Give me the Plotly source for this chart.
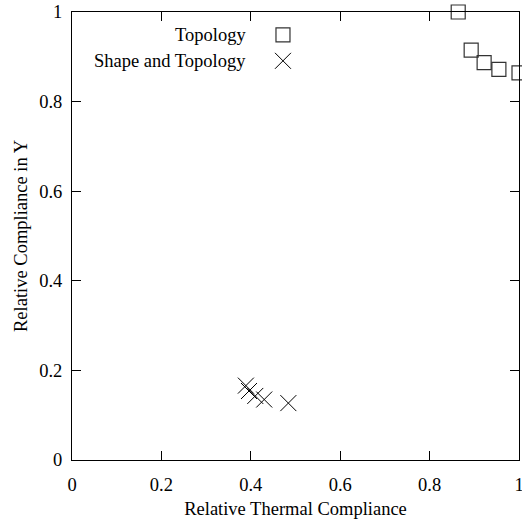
import plotly.graph_objects as go

topo_x = [0.864, 0.893, 0.922, 0.955, 1.0]
topo_y = [1.0, 0.915, 0.887, 0.872, 0.864]
shape_x = [0.389, 0.396, 0.410, 0.430, 0.484]
shape_y = [0.166, 0.154, 0.143, 0.135, 0.127]
legend_names = ["Topology", "Shape and Topology"]
tick_vals = [0, 0.2, 0.4, 0.6, 0.8, 1]
tick_text = ["0", "0.2", "0.4", "0.6", "0.8", "1"]

FONT = "Liberation Serif"
FS = 18.5
fig = go.Figure()
fig.add_trace(go.Scatter(x=topo_x, y=topo_y, mode="markers", name=legend_names[0],
                         marker=dict(symbol="square-open", size=14, color="#333333", line=dict(width=1.2)),
                         cliponaxis=False, showlegend=False))
fig.add_trace(go.Scatter(x=shape_x, y=shape_y, mode="markers", name=legend_names[1],
                         marker=dict(symbol="x-thin-open", size=16, color="black", line=dict(width=1, color="black")),
                         cliponaxis=False, showlegend=False))
# legend keys on an overlay axis in plot-fraction units
fig.add_trace(go.Scatter(x=[0.472], y=[0.949], xaxis="x2", yaxis="y2", mode="markers",
                         marker=dict(symbol="square-open", size=14, color="#333333", line=dict(width=1.2)),
                         showlegend=False, hoverinfo="skip", cliponaxis=False))
fig.add_trace(go.Scatter(x=[0.472], y=[0.891], xaxis="x2", yaxis="y2", mode="markers",
                         marker=dict(symbol="x-thin-open", size=16, color="black", line=dict(width=1, color="black")),
                         showlegend=False, hoverinfo="skip", cliponaxis=False))
for name, yy in zip(legend_names, [0.949, 0.891]):
    fig.add_annotation(x=0.394, y=yy, xref="paper", yref="paper", text=name, showarrow=False,
                       xanchor="right", yanchor="middle", font=dict(family=FONT, size=FS, color="black"))

axcommon = dict(range=[0, 1], tickvals=tick_vals, ticktext=tick_text, ticks="inside", ticklen=9,
                tickwidth=1, tickcolor="black", showline=True, linecolor="black", linewidth=1,
                mirror="allticks", showgrid=False, zeroline=False, ticklabeloverflow="allow",
                automargin=False, tickfont=dict(family=FONT, size=FS, color="black"))
fig.update_layout(
    width=522, height=527, margin=dict(l=72, r=3, t=12, b=67),
    paper_bgcolor="white", plot_bgcolor="white", showlegend=False,
    xaxis=dict(**axcommon, ticklabelstandoff=8,
               title=dict(text="Relative Thermal Compliance", font=dict(family=FONT, size=FS, color="black"), standoff=7)),
    yaxis=dict(**axcommon, ticklabelstandoff=5,
               title=dict(text="Relative Compliance in Y", font=dict(family=FONT, size=FS, color="black"), standoff=6)),
    xaxis2=dict(range=[0, 1], overlaying="x", visible=False, anchor="y2"),
    yaxis2=dict(range=[0, 1], overlaying="y", visible=False, anchor="x2"),
)
fig.write_html("out.html")
